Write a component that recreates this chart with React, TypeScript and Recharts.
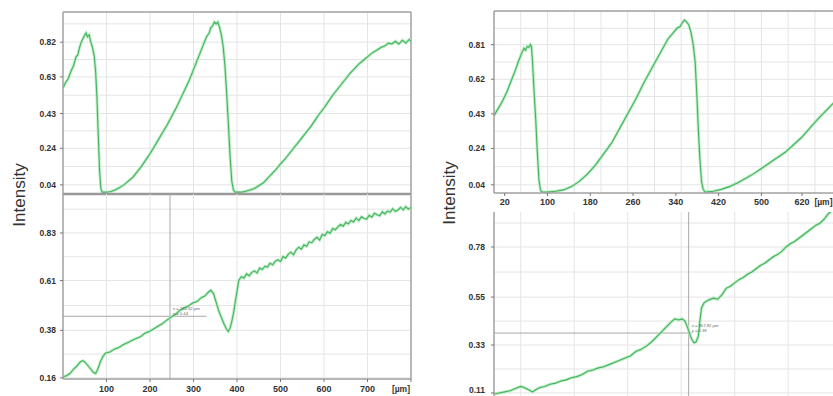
import React from "react";
import { LineChart, Line, XAxis, YAxis, CartesianGrid, ReferenceLine, ReferenceDot } from "recharts";

const FONT = "'Liberation Sans', Arial, sans-serif";
const UNIT = "[µm]";

// ---- Sample A, reflection profile (µm → intensity) ----
const A_TOP_X = [0, 6, 12, 18, 24, 30, 34, 38, 42, 46, 50, 53, 56, 60, 64, 68, 72, 75, 78, 81, 84, 87, 90, 100, 110, 120, 130, 140, 150, 160, 170, 180, 190, 200, 210, 220, 230, 240, 250, 260, 270, 280, 290, 300, 310, 320, 330, 336, 340, 344, 348, 352, 356, 360, 364, 368, 372, 376, 380, 384, 388, 392, 396, 410, 420, 430, 440, 450, 460, 470, 480, 490, 500, 510, 520, 530, 540, 550, 560, 570, 580, 590, 600, 610, 620, 630, 640, 650, 660, 670, 680, 690, 700, 710, 720, 730, 740, 748, 756, 764, 772, 780, 788, 796, 800];
const A_TOP_Y = [0.57, 0.6, 0.62, 0.66, 0.69, 0.74, 0.75, 0.79, 0.82, 0.84, 0.86, 0.87, 0.85, 0.86, 0.82, 0.79, 0.74, 0.66, 0.52, 0.32, 0.12, 0.02, 0.0, 0.0, 0.004, 0.012, 0.025, 0.04, 0.06, 0.08, 0.11, 0.14, 0.175, 0.21, 0.25, 0.29, 0.33, 0.37, 0.415, 0.46, 0.51, 0.56, 0.61, 0.67, 0.73, 0.79, 0.85, 0.87, 0.9, 0.91, 0.93, 0.92, 0.93, 0.9, 0.86, 0.8, 0.7, 0.55, 0.38, 0.2, 0.06, 0.01, 0.0, 0.0, 0.005, 0.012, 0.02, 0.035, 0.05, 0.075, 0.1, 0.125, 0.155, 0.18, 0.21, 0.24, 0.27, 0.3, 0.33, 0.36, 0.395, 0.43, 0.46, 0.495, 0.53, 0.56, 0.59, 0.62, 0.65, 0.675, 0.7, 0.72, 0.74, 0.76, 0.775, 0.79, 0.8, 0.815, 0.81, 0.825, 0.81, 0.83, 0.815, 0.835, 0.825];

const A_BOT_X = [0, 8, 16, 24, 32, 40, 46, 52, 58, 64, 70, 75, 80, 86, 92, 98, 108, 118, 128, 138, 148, 158, 168, 178, 188, 198, 208, 218, 228, 238, 248, 258, 268, 278, 288, 298, 308, 318, 326, 334, 340, 346, 352, 358, 364, 370, 376, 380, 384, 388, 392, 396, 400, 404, 410, 416, 422, 428, 434, 440, 446, 452, 458, 464, 470, 476, 482, 488, 494, 500, 506, 512, 518, 524, 530, 536, 542, 548, 554, 560, 566, 572, 578, 584, 590, 596, 602, 608, 614, 620, 626, 632, 638, 644, 650, 656, 662, 668, 674, 680, 686, 692, 698, 704, 710, 716, 722, 728, 734, 740, 746, 752, 758, 764, 770, 776, 782, 788, 794, 800];
const A_BOT_Y = [0.165, 0.17, 0.18, 0.2, 0.215, 0.235, 0.24, 0.23, 0.215, 0.2, 0.185, 0.18, 0.2, 0.235, 0.26, 0.275, 0.28, 0.293, 0.3, 0.313, 0.322, 0.333, 0.342, 0.35, 0.366, 0.374, 0.386, 0.399, 0.41, 0.426, 0.44, 0.453, 0.471, 0.483, 0.492, 0.506, 0.513, 0.531, 0.538, 0.556, 0.565, 0.55, 0.51, 0.47, 0.44, 0.41, 0.385, 0.375, 0.39, 0.42, 0.46, 0.51, 0.56, 0.61, 0.628, 0.622, 0.641, 0.632, 0.648, 0.655, 0.645, 0.668, 0.661, 0.676, 0.672, 0.69, 0.683, 0.699, 0.706, 0.698, 0.721, 0.714, 0.732, 0.741, 0.729, 0.752, 0.764, 0.755, 0.775, 0.768, 0.789, 0.785, 0.801, 0.81, 0.797, 0.823, 0.818, 0.836, 0.829, 0.851, 0.845, 0.858, 0.869, 0.861, 0.879, 0.872, 0.888, 0.881, 0.899, 0.887, 0.905, 0.897, 0.894, 0.912, 0.903, 0.921, 0.914, 0.909, 0.928, 0.918, 0.931, 0.926, 0.942, 0.93, 0.936, 0.948, 0.937, 0.951, 0.94, 0.948];

// ---- Sample B ----
const B_TOP_X = [0, 8, 16, 24, 32, 40, 46, 52, 56, 59, 62, 65, 68, 70, 72, 75, 78, 81, 84, 87, 90, 100, 115, 130, 145, 160, 175, 190, 205, 220, 235, 250, 265, 280, 295, 310, 325, 335, 342, 348, 352, 356, 360, 364, 368, 372, 376, 379, 382, 385, 388, 391, 395, 410, 425, 440, 455, 470, 485, 500, 515, 530, 545, 560, 575, 590, 605, 615, 625, 635, 645, 660];
const B_TOP_Y = [0.42, 0.46, 0.5, 0.55, 0.61, 0.67, 0.72, 0.765, 0.79, 0.78, 0.8, 0.795, 0.81, 0.8, 0.72, 0.55, 0.4, 0.22, 0.07, 0.01, 0.0, 0.0, 0.005, 0.012, 0.03, 0.06, 0.1, 0.15, 0.21, 0.27, 0.35, 0.43, 0.51, 0.6, 0.68, 0.76, 0.84, 0.875, 0.9, 0.91, 0.93, 0.945, 0.935, 0.92, 0.88, 0.82, 0.72, 0.55, 0.35, 0.18, 0.06, 0.015, 0.0, 0.005, 0.015, 0.03, 0.05, 0.075, 0.1, 0.13, 0.16, 0.19, 0.22, 0.26, 0.3, 0.35, 0.4, 0.43, 0.46, 0.49, 0.51, 0.55];

const B_BOT_X = [0, 10, 20, 30, 40, 50, 56, 62, 68, 72, 78, 86, 95, 105, 115, 125, 135, 145, 155, 165, 175, 185, 195, 205, 215, 225, 235, 245, 255, 265, 275, 285, 295, 305, 315, 325, 333, 338, 345, 352, 357, 362, 366, 370, 374, 378, 382, 385, 388, 393, 400, 410, 418, 426, 434, 442, 450, 458, 466, 474, 482, 490, 498, 506, 514, 522, 530, 538, 546, 554, 562, 570, 578, 586, 594, 602, 610, 618, 626, 634, 642, 660];
const B_BOT_Y = [0.105, 0.11, 0.115, 0.12, 0.13, 0.14, 0.135, 0.128, 0.12, 0.115, 0.125, 0.135, 0.14, 0.15, 0.155, 0.165, 0.17, 0.18, 0.185, 0.195, 0.21, 0.215, 0.225, 0.23, 0.24, 0.25, 0.26, 0.27, 0.28, 0.3, 0.31, 0.325, 0.345, 0.37, 0.395, 0.42, 0.44, 0.45, 0.445, 0.45, 0.44, 0.41, 0.38, 0.355, 0.34, 0.345, 0.37, 0.44, 0.5, 0.525, 0.535, 0.545, 0.54, 0.56, 0.59, 0.6, 0.615, 0.63, 0.64, 0.655, 0.665, 0.68, 0.695, 0.705, 0.72, 0.735, 0.745, 0.76, 0.78, 0.795, 0.805, 0.82, 0.835, 0.85, 0.865, 0.88, 0.89, 0.91, 0.935, 0.95, 0.965, 0.99];

// ---- axes ----
const A_X_TICKS = [100, 200, 300, 400, 500, 600, 700, 800];
const A_X_LABELS = ["100", "200", "300", "400", "500", "600", "700", UNIT];
const A_X_GRID = [100, 200, 300, 400, 500, 600, 700];
const A_TOP_TICKS = [0.04, 0.24, 0.43, 0.63, 0.82];
const A_TOP_GRID = [0.04, 0.14, 0.24, 0.335, 0.43, 0.53, 0.63, 0.725, 0.82, 0.92];
const A_BOT_TICKS = [0.16, 0.38, 0.61, 0.83];
const A_BOT_GRID = [0.16, 0.27, 0.38, 0.495, 0.61, 0.72, 0.83, 0.94];

const B_X_TICKS = [20, 100, 180, 260, 340, 420, 500, 576, 660];
const B_X_LABELS = ["20", "100", "180", "260", "340", "420", "500", "620", UNIT];
const B_X_GRID = [50, 100, 150, 200, 250, 300, 350, 400, 450, 500, 550, 600, 650];
const B_TOP_TICKS = [0.04, 0.24, 0.43, 0.62, 0.81];
const B_TOP_GRID = [0.04, 0.14, 0.24, 0.335, 0.43, 0.525, 0.62, 0.715, 0.81, 0.9];
const B_BOT_TICKS = [0.11, 0.33, 0.55, 0.78];
const B_BOT_GRID = [0.11, 0.22, 0.33, 0.44, 0.55, 0.665, 0.78, 0.89];

// cursor readouts
const A_CURSOR = { x: 246, y: 0.445, xEnd: 330, text: ["x = 245.52 µm", "y = 0.44"] };
const B_CURSOR = { x: 364, y: 0.385, xEnd: 370, text: ["x = 367.82 µm", "y = 0.39"] };

const zip = (xs: number[], ys: number[]) => xs.map((x, i) => ({ x, v: ys[i] }));

const LINE_CORE = "#43b35e";
const LINE_HALO = "#aee8b8";
const GRID = "#e4e4e4";
const FRAME = "#a0a0a0";

const tickStyle = { fontSize: 8.5, fontWeight: 700, fill: "#333", fontFamily: FONT };

// x tick renderer; the unit label is pinned against the plot's right edge
function makeXTick(ticks: number[], labels: string[], unitX: number) {
  return (props: any) => {
    const { x, y, payload } = props;
    const i = ticks.indexOf(payload.value);
    const label = i >= 0 ? labels[i] : String(payload.value);
    const isUnit = label === UNIT;
    return (
      <text
        x={isUnit ? unitX : x}
        y={y}
        dy="0.71em"
        textAnchor={isUnit ? "end" : "middle"}
        style={{ ...tickStyle, fontSize: isUnit ? 8.5 : 9 }}
      >
        {label}
      </text>
    );
  };
}

// y tick renderer; a label sitting on the lower edge is nudged up to stay on the page
function makeYTick(maxY: number) {
  return (props: any) => {
    const { x, y, payload } = props;
    const cy = Math.min(y, maxY);
    return (
      <text x={x} y={cy} dy="0.355em" textAnchor="end" style={tickStyle}>
        {Number(payload.value).toFixed(2)}
      </text>
    );
  };
}

function cursorTag(lines: string[]) {
  return (props: any) => {
    const vb = props.viewBox || {};
    const x = (vb.x ?? 0) + 3;
    const y = vb.y ?? 0;
    return (
      <g>
        <text x={x} y={y - 6} fontSize={4.2} fill="#666" fontFamily={FONT}>{lines[0]}</text>
        <text x={x} y={y - 1.5} fontSize={4.2} fill="#666" fontFamily={FONT}>{lines[1]}</text>
      </g>
    );
  };
}

function traceLines(data: { x: number; v: number }[], key: string) {
  return [
    <Line key={key + "h"} data={data} dataKey="v" type="linear" dot={false} stroke={LINE_HALO} strokeWidth={3} strokeOpacity={0.8} isAnimationActive={false} />,
    <Line key={key + "c"} data={data} dataKey="v" type="linear" dot={false} stroke={LINE_CORE} strokeWidth={1.1} isAnimationActive={false} />,
  ];
}

const A_TOP = zip(A_TOP_X, A_TOP_Y);
const A_BOT = zip(A_BOT_X, A_BOT_Y);
const B_TOP = zip(B_TOP_X, B_TOP_Y);
const B_BOT = zip(B_BOT_X, B_BOT_Y);

const A_XD: [number, number] = [0, 800];
const A_TOP_YD: [number, number] = [-0.01, 0.985];
const A_BOT_YD: [number, number] = [0.155, 1.01];
const B_XD: [number, number] = [0, 660];
const B_TOP_YD: [number, number] = [-0.005, 0.995];
const B_BOT_YD: [number, number] = [0.096, 0.9405];

export default function App() {
  return (
    <div
      style={{
        position: "fixed",
        left: 0,
        top: 0,
        width: 833,
        height: 396,
        overflow: "hidden",
        background: "#fff",
        fontFamily: FONT,
      }}
    >
      {/* Sample A, upper trace */}
      <div style={{ position: "absolute", left: 0, top: 0 }}>
        <LineChart width={415} height={200} margin={{ top: 12, right: 4, bottom: 6, left: 0 }}>
          <CartesianGrid stroke={GRID} horizontalValues={A_TOP_GRID} verticalValues={A_X_GRID} />
          <XAxis type="number" dataKey="x" domain={A_XD} allowDataOverflow hide />
          <YAxis
            type="number"
            width={63}
            domain={A_TOP_YD}
            allowDataOverflow
            ticks={A_TOP_TICKS}
            interval={0}
            tick={makeYTick(1000)}
            tickSize={3}
            tickMargin={4}
            axisLine={{ stroke: FRAME, strokeWidth: 1.5 }}
            tickLine={{ stroke: "#777" }}
          />
          <ReferenceLine y={A_TOP_YD[1]} stroke={FRAME} strokeWidth={1.5} />
          <ReferenceLine x={A_XD[1]} stroke={FRAME} strokeWidth={1.5} />
          {traceLines(A_TOP, "at")}
          <ReferenceLine y={A_TOP_YD[0]} stroke="#999" strokeWidth={2.5} />
        </LineChart>
      </div>

      {/* Sample A, lower trace */}
      <div style={{ position: "absolute", left: 0, top: 194 }}>
        <LineChart width={415} height={202} margin={{ top: 0, right: 4, bottom: 0, left: 0 }}>
          <CartesianGrid stroke={GRID} horizontalValues={A_BOT_GRID} verticalValues={A_X_GRID} />
          <XAxis
            type="number"
            dataKey="x"
            domain={A_XD}
            allowDataOverflow
            ticks={A_X_TICKS}
            interval={0}
            height={17}
            tickSize={3}
            tickMargin={4}
            tick={makeXTick(A_X_TICKS, A_X_LABELS, 410)}
            axisLine={{ stroke: FRAME, strokeWidth: 1.5 }}
            tickLine={{ stroke: "#777" }}
          />
          <YAxis
            type="number"
            width={63}
            domain={A_BOT_YD}
            allowDataOverflow
            ticks={A_BOT_TICKS}
            interval={0}
            tick={makeYTick(1000)}
            tickSize={3}
            tickMargin={4}
            axisLine={{ stroke: FRAME, strokeWidth: 1.5 }}
            tickLine={{ stroke: "#777" }}
          />
          <ReferenceLine x={A_XD[1]} stroke={FRAME} strokeWidth={1.5} />
          <ReferenceLine x={A_CURSOR.x} stroke="#a8a8a8" strokeWidth={1} />
          <ReferenceLine
            segment={[{ x: 0, y: A_CURSOR.y }, { x: A_CURSOR.xEnd, y: A_CURSOR.y }]}
            stroke="#a8a8a8"
            strokeWidth={1}
          />
          {traceLines(A_BOT, "ab")}
          <ReferenceDot x={A_CURSOR.x} y={A_CURSOR.y} r={0} fill="none" stroke="none" label={{ content: cursorTag(A_CURSOR.text) }} />
        </LineChart>
      </div>

      {/* Sample B, upper trace */}
      <div style={{ position: "absolute", left: 415, top: 0 }}>
        <LineChart width={434} height={212} margin={{ top: 11, right: 2, bottom: 0, left: 0 }}>
          <CartesianGrid stroke={GRID} horizontalValues={B_TOP_GRID} verticalValues={B_X_GRID} />
          <XAxis
            type="number"
            dataKey="x"
            domain={B_XD}
            allowDataOverflow
            ticks={B_X_TICKS}
            interval={0}
            height={19}
            tickSize={3}
            tickMargin={3}
            tick={makeXTick(B_X_TICKS, B_X_LABELS, 417.5)}
            axisLine={{ stroke: FRAME, strokeWidth: 1.5 }}
            tickLine={{ stroke: "#777" }}
          />
          <YAxis
            type="number"
            width={79}
            domain={B_TOP_YD}
            allowDataOverflow
            ticks={B_TOP_TICKS}
            interval={0}
            tick={makeYTick(1000)}
            tickSize={3}
            tickMargin={6}
            axisLine={{ stroke: FRAME, strokeWidth: 1.5 }}
            tickLine={{ stroke: "#777" }}
          />
          <ReferenceLine y={B_TOP_YD[1]} stroke={FRAME} strokeWidth={1.5} />
          {traceLines(B_TOP, "bt")}
        </LineChart>
      </div>

      {/* Sample B, lower trace */}
      <div style={{ position: "absolute", left: 415, top: 212 }}>
        <LineChart width={434} height={184} margin={{ top: 0, right: 2, bottom: 0, left: 0 }}>
          <CartesianGrid stroke={GRID} horizontalValues={B_BOT_GRID} verticalValues={B_X_GRID} />
          <XAxis type="number" dataKey="x" domain={B_XD} allowDataOverflow hide />
          <YAxis
            type="number"
            width={79}
            domain={B_BOT_YD}
            allowDataOverflow
            ticks={B_BOT_TICKS}
            interval={0}
            tick={makeYTick(178)}
            tickSize={3}
            tickMargin={6}
            axisLine={{ stroke: FRAME, strokeWidth: 1.5 }}
            tickLine={{ stroke: "#777" }}
          />
          <ReferenceLine x={B_CURSOR.x} stroke="#a8a8a8" strokeWidth={1} />
          <ReferenceLine
            segment={[{ x: 0, y: B_CURSOR.y }, { x: B_CURSOR.xEnd, y: B_CURSOR.y }]}
            stroke="#a8a8a8"
            strokeWidth={1}
          />
          {traceLines(B_BOT, "bb")}
          <ReferenceDot x={B_CURSOR.x} y={B_CURSOR.y} r={0} fill="none" stroke="none" label={{ content: cursorTag(B_CURSOR.text) }} />
        </LineChart>
      </div>

      {/* shared axis titles */}
      <svg width={833} height={396} style={{ position: "absolute", left: 0, top: 0, pointerEvents: "none" }}>
        <text x={19} y={195} transform="rotate(-90 19 195)" textAnchor="middle" dominantBaseline="central" fontSize={17} fill="#333" fontFamily={FONT}>
          Intensity
        </text>
        <text x={449} y={193} transform="rotate(-90 449 193)" textAnchor="middle" dominantBaseline="central" fontSize={17} fill="#333" fontFamily={FONT}>
          Intensity
        </text>
      </svg>
    </div>
  );
}
